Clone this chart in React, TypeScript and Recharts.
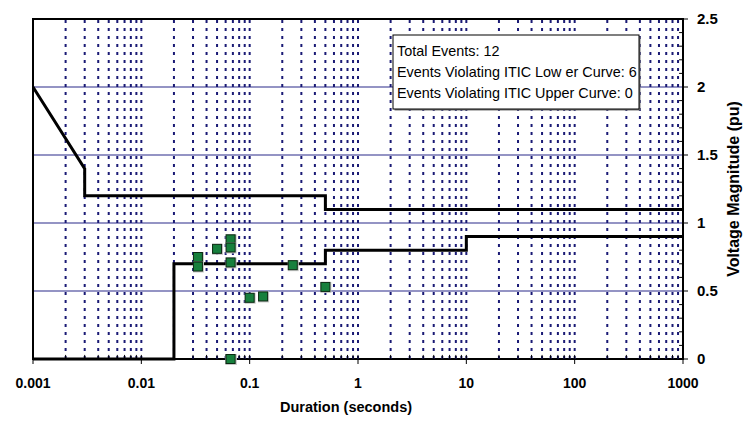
import React from 'react';
import {
  ComposedChart,
  Line,
  Scatter,
  XAxis,
  YAxis,
  CartesianGrid,
  ReferenceLine,
  ReferenceArea,
} from 'recharts';

// ---- Axis ticks ----
const xTicks = [0.001, 0.01, 0.1, 1, 10, 100, 1000];
const xTickLabels = ['0.001', '0.01', '0.1', '1', '10', '100', '1000'];
const yTicks = [0, 0.5, 1, 1.5, 2, 2.5];
const yTickLabels = ['0', '0.5', '1', '1.5', '2', '2.5'];
const minorMultipliers = [2, 3, 4, 5, 6, 7, 8, 9, 10];
const decades = [0.001, 0.01, 0.1, 1, 10, 100];
const yMinorTicks = [0.1, 0.2, 0.3, 0.4, 0.6, 0.7, 0.8, 0.9, 1.1, 1.2, 1.3, 1.4, 1.6, 1.7, 1.8, 1.9, 2.1, 2.2, 2.3, 2.4];

// ---- ITIC curves ----
const upperCurveX = [0.001, 0.003, 0.003, 0.5, 0.5, 1000];
const upperCurveY = [2.0, 1.4, 1.2, 1.2, 1.1, 1.1];
const lowerCurveX = [0.001, 0.02, 0.02, 0.5, 0.5, 10, 10, 1000];
const lowerCurveY = [0, 0, 0.7, 0.7, 0.8, 0.8, 0.9, 0.9];

// ---- Events ----
const eventDurations = [0.0333, 0.0333, 0.05, 0.0667, 0.0667, 0.0667, 0.0667, 0.0667, 0.1, 0.133, 0.25, 0.5];
const eventMagnitudes = [0.75, 0.68, 0.81, 0.88, 0.82, 0.71, 0, 0, 0.45, 0.46, 0.69, 0.53];

// ---- Legend text ----
const infoLines = [
  'Total Events: 12',
  'Events Violating ITIC Low er Curve: 6',
  'Events Violating ITIC Upper Curve: 0',
];

const upperData = upperCurveX.map((x, i) => ({ x, y: upperCurveY[i] }));
const lowerData = lowerCurveX.map((x, i) => ({ x, y: lowerCurveY[i] }));
const eventData = eventDurations.map((x, i) => ({ x, y: eventMagnitudes[i] }));
const minorX: number[] = [];
decades.forEach((d) => minorMultipliers.forEach((m) => minorX.push(+(d * m).toPrecision(3))));
const minorXGrid = minorX.filter((v) => v < 1000);

const FONT = "'Liberation Sans', Arial, sans-serif";
const NAVY = '#1a1a75';

const Square = (props: any) => {
  const { cx, cy } = props;
  if (cx == null || cy == null) return null;
  return (
    <g>
      <rect x={cx - 5} y={cy - 5} width={11} height={11} fill="#c8c8c8" />
      <rect x={cx - 4.5} y={cy - 4.5} width={9} height={9} fill="#17803d" stroke="#0b2a12" strokeWidth={1} />
    </g>
  );
};

const XTitle = (props: any) => {
  const vb = props.viewBox || {};
  return (
    <text x={vb.x + vb.width / 2 - 12} y={vb.y + 53} textAnchor="middle" fontFamily={FONT} fontSize={14.5} fontWeight="bold" fill="#000">
      Duration (seconds)
    </text>
  );
};

const YTitle = (props: any) => {
  const vb = props.viewBox || {};
  const x = vb.x + 56;
  const y = vb.y + vb.height / 2;
  return (
    <text x={x} y={y} transform={`rotate(-90, ${x}, ${y})`} textAnchor="middle" fontFamily={FONT} fontSize={16} fontWeight="bold" fill="#000">
      Voltage Magnitude (pu)
    </text>
  );
};

export default function App() {
  return (
    <div style={{ position: 'absolute', left: 0, top: 0, width: 745, height: 425, background: '#fff' }}>
      <ComposedChart width={745} height={425} margin={{ top: 19, left: 33, right: 12, bottom: 6 }}>
        <CartesianGrid vertical={false} stroke="#2a2a8a" strokeWidth={1.2} />
        <XAxis
          dataKey="x"
          type="number"
          scale="log"
          domain={[0.001, 1000]}
          ticks={xTicks}
          allowDataOverflow
          height={60}
          axisLine={false}
          tickSize={5}
          tickMargin={14}
          tickLine={{ stroke: '#000', strokeWidth: 1 }}
          tickFormatter={(v: number) => xTickLabels[xTicks.indexOf(v)] ?? String(v)}
          tick={{ fontFamily: FONT, fontSize: 14, fontWeight: 'bold', fill: '#000' }}
          label={<XTitle />}
        />
        <YAxis
          dataKey="y"
          type="number"
          orientation="right"
          domain={[0, 2.5]}
          ticks={yTicks}
          width={50}
          axisLine={false}
          tickSize={5}
          tickMargin={9}
          tickLine={{ stroke: '#000', strokeWidth: 1 }}
          tickFormatter={(v: number) => yTickLabels[yTicks.indexOf(v)] ?? String(v)}
          tick={{ fontFamily: FONT, fontSize: 15, fontWeight: 'bold', fill: '#000' }}
          label={<YTitle />}
        />
        {minorXGrid.map((v) => (
          <ReferenceLine key={'g' + v} x={v} stroke={NAVY} strokeWidth={2} strokeDasharray="3 5" />
        ))}
        {minorX.map((v) => (
          <ReferenceLine key={'t' + v} segment={[{ x: v, y: 0 }, { x: v, y: 0.03 }]} stroke="#000" strokeWidth={1} />
        ))}
        {yMinorTicks.map((v) => (
          <ReferenceLine key={'yt' + v} segment={[{ x: 920, y: v }, { x: 1000, y: v }]} stroke="#000" strokeWidth={1} />
        ))}
        <Line data={upperData} dataKey="y" type="linear" stroke="#000" strokeWidth={3} dot={false} isAnimationActive={false} />
        <Line data={lowerData} dataKey="y" type="linear" stroke="#000" strokeWidth={3} dot={false} isAnimationActive={false} />
        <Scatter data={eventData} dataKey="y" shape={<Square />} isAnimationActive={false} />
        <ReferenceArea x1={0.001} x2={1000} y1={0} y2={2.5} fill="none" fillOpacity={0} stroke="#000" strokeWidth={2} />
      </ComposedChart>
      <svg width={745} height={425} style={{ position: 'absolute', left: 0, top: 0, pointerEvents: 'none' }}>
        <rect x={394.5} y={36.5} width={246} height={74} fill="#777" />
        <rect x={393} y={35} width={246} height={74} fill="#fff" stroke="#000" strokeWidth={1} />
        {infoLines.map((t, i) => (
          <text key={t} x={397} y={56 + i * 21} fontFamily={FONT} fontSize={14.4} fill="#000">
            {t}
          </text>
        ))}
      </svg>
    </div>
  );
}
